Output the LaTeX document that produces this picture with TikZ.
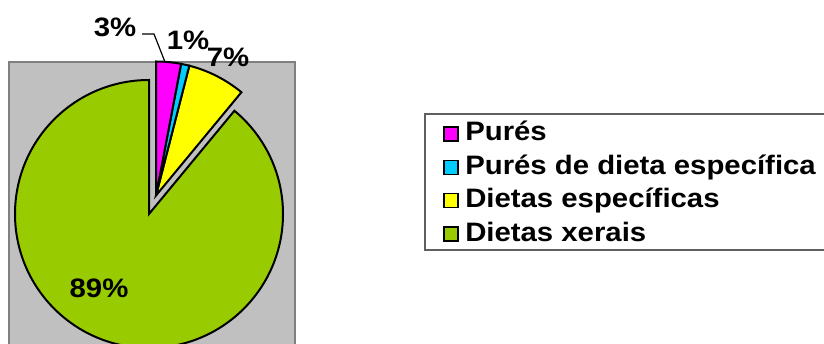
\documentclass[tikz,border=0pt]{standalone}
\usepackage{fontspec}
\setmainfont{Liberation Sans}[FakeStretch=1.1]
\definecolor{cpure}{HTML}{FF00FF}
\definecolor{cpdiet}{HTML}{00CCFF}
\definecolor{cdiet}{HTML}{FFFF00}
\definecolor{cxerais}{HTML}{99CC00}
\definecolor{plotgray}{HTML}{C0C0C0}
\definecolor{plotedge}{HTML}{808080}
\definecolor{legedge}{HTML}{606060}
\begin{document}
\begin{tikzpicture}[x=0.75pt,y=0.75pt,
  slice/.style={draw=black,line width=1.5pt,line join=miter},
  lbl/.style={font=\fontsize{20}{24}\selectfont\bfseries,inner sep=0pt,anchor=base},
  legsq/.style={draw=black,line width=1.2pt,minimum size=10.5pt,inner sep=0pt},
  legtxt/.style={font=\fontsize{20}{24}\selectfont\bfseries,inner sep=0pt,anchor=base west}]
\useasboundingbox (0,0) rectangle (824,343);
\clip (0,0) rectangle (824,343);
% plot area
\filldraw[fill=plotgray,draw=plotedge,line width=1.5pt] (9,281) rectangle (295,-20);
% pie
\coordinate (G) at (149,129);
\coordinate (E) at (156,147.5);
\filldraw[slice,fill=cxerais] (G) -- ++(90:134) arc[start angle=90,end angle=410.4,radius=134] -- cycle;
\filldraw[slice,fill=cdiet] (E) -- ++(50.4:134) arc[start angle=50.4,end angle=75.6,radius=134] -- cycle;
\filldraw[slice,fill=cpdiet] (E) -- ++(75.6:134) arc[start angle=75.6,end angle=79.2,radius=134] -- cycle;
\filldraw[slice,fill=cpure] (E) -- ++(79.2:134) arc[start angle=79.2,end angle=90,radius=134] -- cycle;
% labels
\node[lbl] (p3) at (115,306) {3\%};
\node[lbl] (p1) at (188,293) {1\%};
\node[lbl] (p7) at (228,276) {7\%};
\node[lbl] (p89) at (99,46) {89\%};
\coordinate (k1) at (142,309);
\coordinate (k2) at (154,309);
\coordinate (k3) at (165,281);
\draw[black,line width=0.9pt] (k1) -- (k2) -- (k3);
% legend
\draw[legedge,line width=0.9pt] (425,229) rectangle (830,93);
\node[legsq,fill=cpure] (s1) at (451,209.2) {};
\node[legsq,fill=cpdiet] (s2) at (451,175.5) {};
\node[legsq,fill=cdiet] (s3) at (451,142.5) {};
\node[legsq,fill=cxerais] (s4) at (451,109.2) {};
\node[legtxt] (t1) at (465,202) {Purés};
\node[legtxt] (t2) at (465,168.3) {Purés de dieta específica};
\node[legtxt] (t3) at (465,135.3) {Dietas específicas};
\node[legtxt] (t4) at (465,102) {Dietas xerais};
\end{tikzpicture}
\end{document}
